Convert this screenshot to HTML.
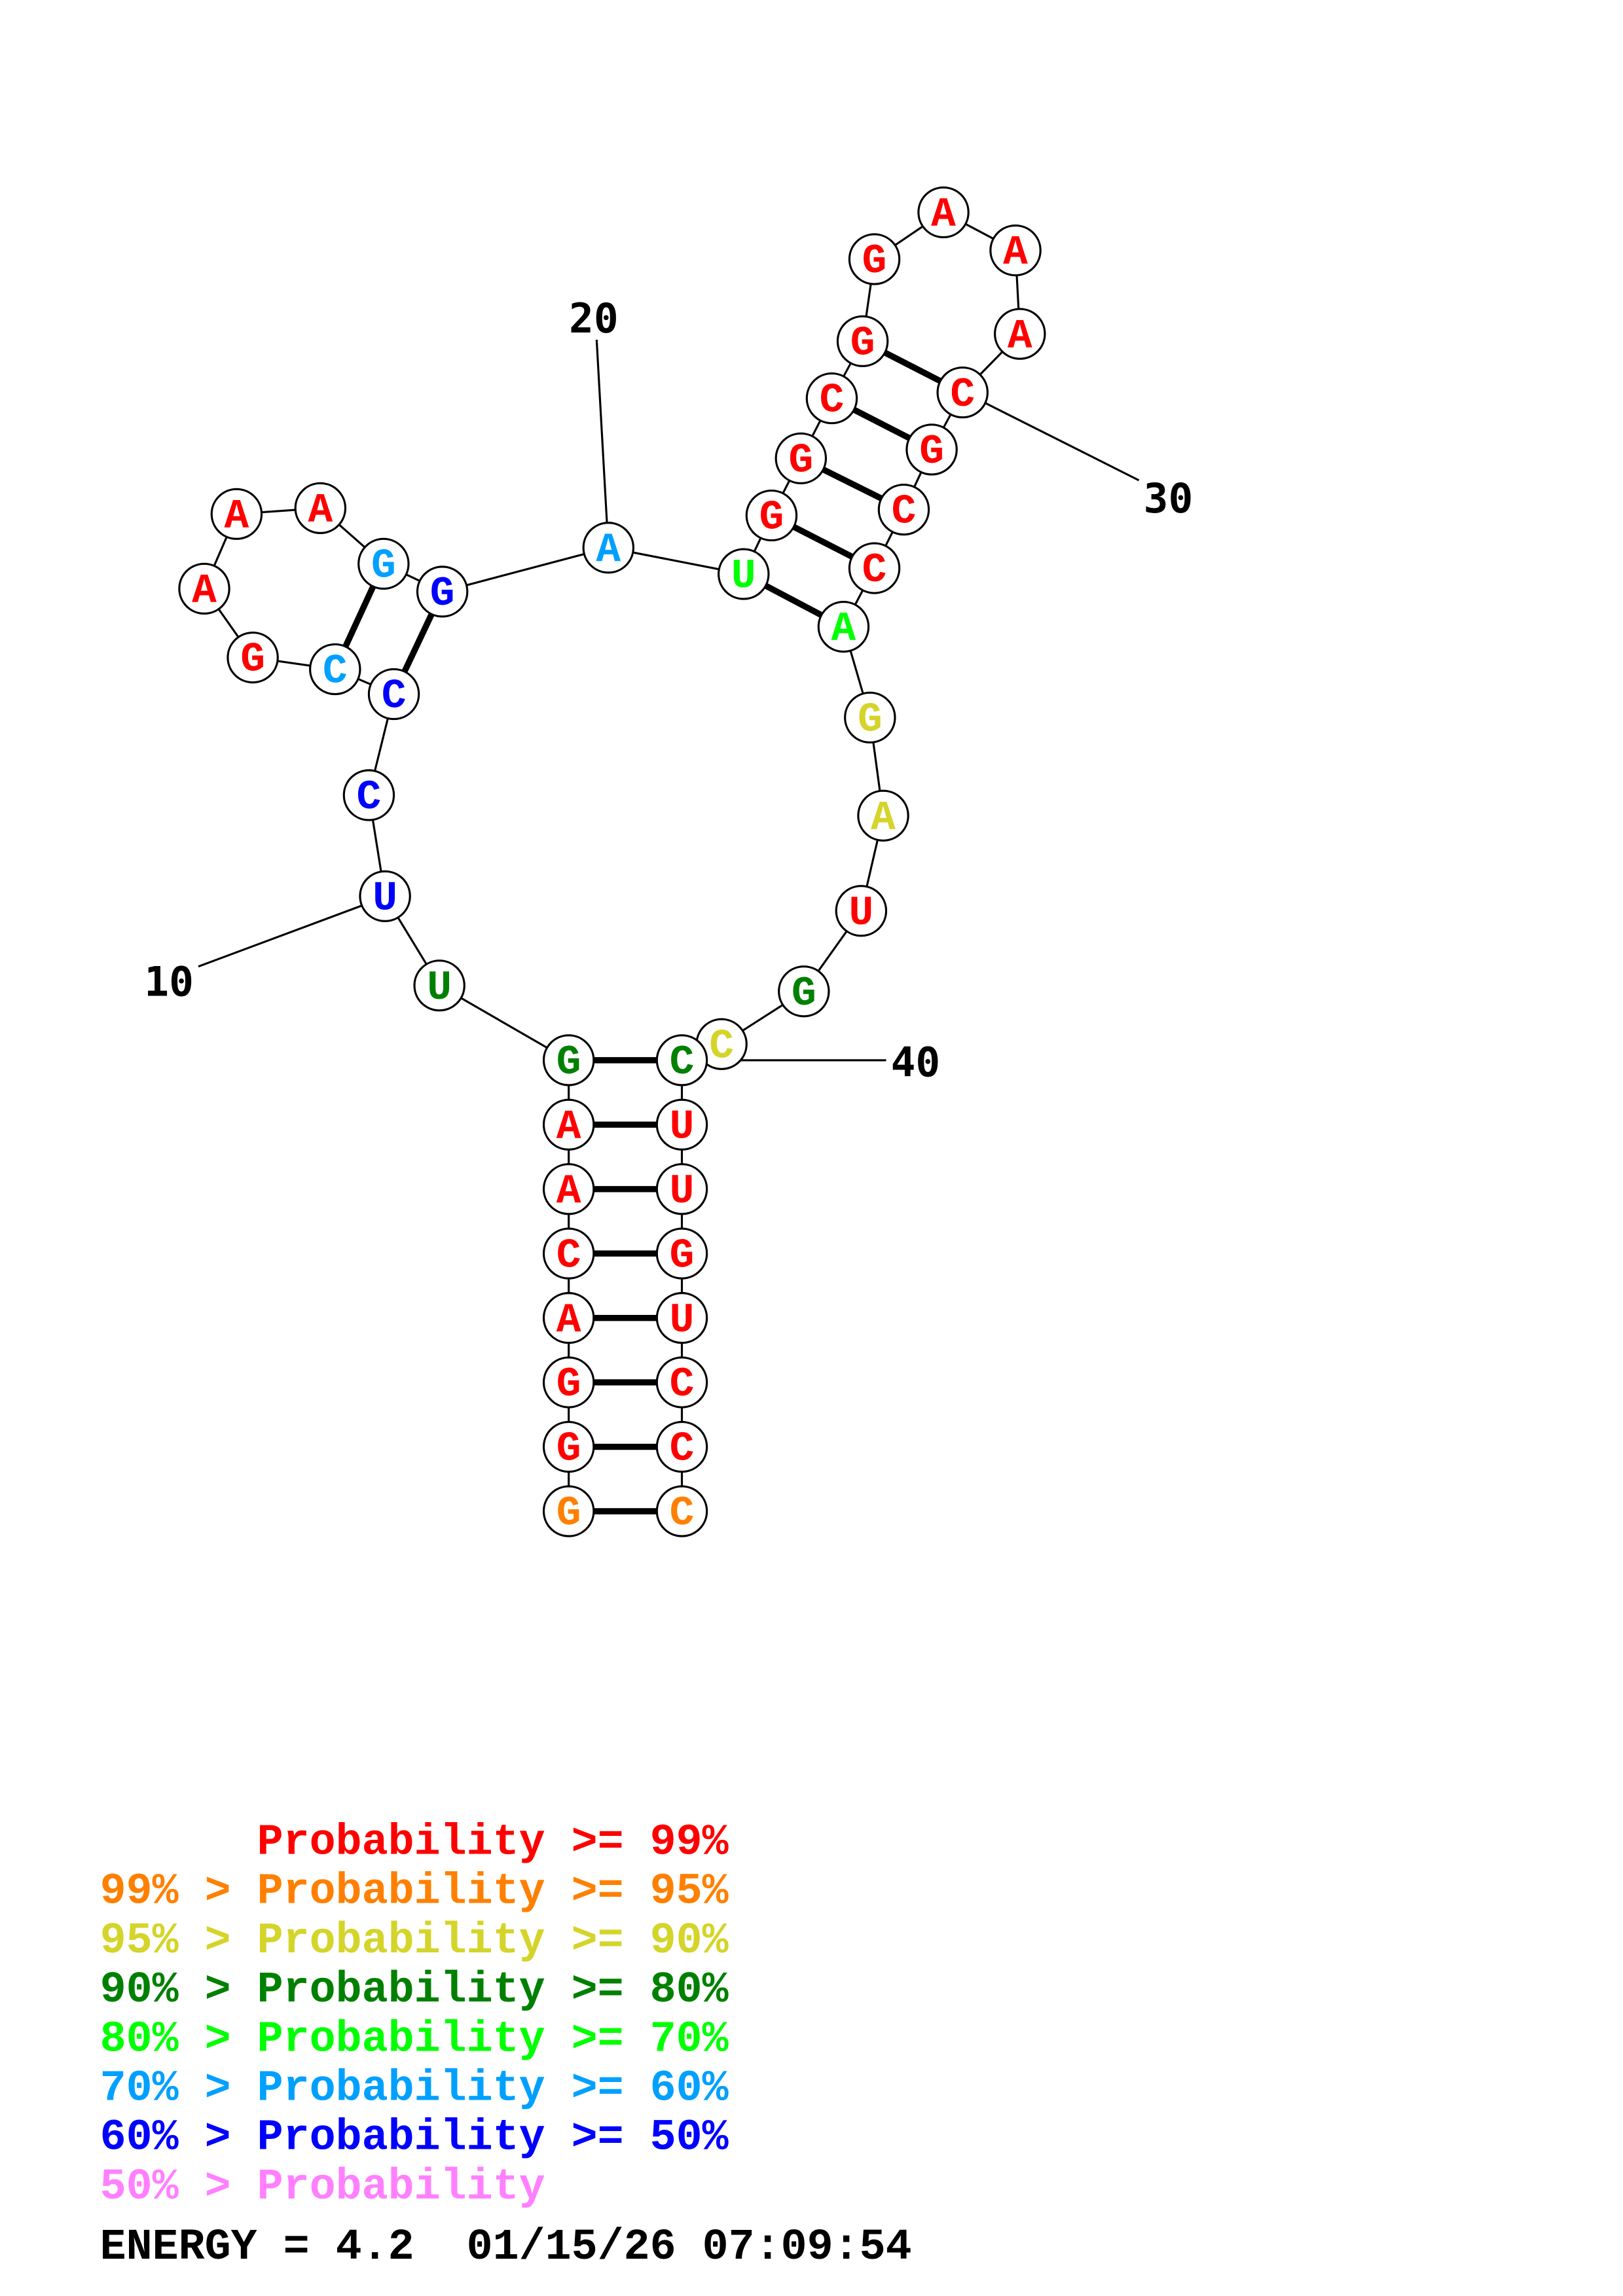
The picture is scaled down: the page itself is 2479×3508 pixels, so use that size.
<!DOCTYPE html>
<html><head><meta charset="utf-8"><style>html,body{margin:0;padding:0;background:#fff}svg{display:block}text{white-space:pre}</style></head>
<body>
<svg width="2479" height="3508" viewBox="0 0 1100 1556.6" xmlns="http://www.w3.org/2000/svg">
<rect width="1100" height="1556.6" fill="#fff"/>
<g transform="scale(0.996,0.9928)">
<g stroke="#000" stroke-width="1.4" fill="none">
<polyline points="387,1032 387,988 387,944 387,900 387,856 387,812 387,768 387,724 299,673 262,612 251,543 268,474 228,457 172,449 139,402 161,351 218,347 261,385 301,404 414,374 506,392 525,352 545,313 566,272 587,233 595,177 642,145 691,171 694,228 655,268 634,307 615,348 595,388 574,428 592,490 601,557 586,622 547,677 491,713 464,724 464,768 464,812 464,856 464,900 464,944 464,988 464,1032"/>
<line x1="135" y1="660" x2="250" y2="617"/>
<line x1="406" y1="232" x2="413" y2="357"/>
<line x1="670" y1="275" x2="775" y2="328"/>
<line x1="480" y1="724" x2="603" y2="724"/>
</g>
<g stroke="#000" stroke-width="4.2">
<line x1="387" y1="1032" x2="464" y2="1032"/><line x1="387" y1="988" x2="464" y2="988"/>
<line x1="387" y1="944" x2="464" y2="944"/><line x1="387" y1="900" x2="464" y2="900"/>
<line x1="387" y1="856" x2="464" y2="856"/><line x1="387" y1="812" x2="464" y2="812"/>
<line x1="387" y1="768" x2="464" y2="768"/><line x1="387" y1="724" x2="464" y2="724"/>
<line x1="268" y1="474" x2="301" y2="404"/><line x1="228" y1="457" x2="261" y2="385"/>
<line x1="506" y1="392" x2="574" y2="428"/><line x1="525" y1="352" x2="595" y2="388"/>
<line x1="545" y1="313" x2="615" y2="348"/><line x1="566" y1="272" x2="634" y2="307"/>
<line x1="587" y1="233" x2="655" y2="268"/>
</g>
<g stroke="#000" stroke-width="1.4" fill="#fff">
<circle cx="387" cy="1032" r="17"/><circle cx="387" cy="988" r="17"/><circle cx="387" cy="944" r="17"/><circle cx="387" cy="900" r="17"/><circle cx="387" cy="856" r="17"/><circle cx="387" cy="812" r="17"/><circle cx="387" cy="768" r="17"/><circle cx="387" cy="724" r="17"/>
<circle cx="299" cy="673" r="17"/><circle cx="262" cy="612" r="17"/><circle cx="251" cy="543" r="17"/><circle cx="268" cy="474" r="17"/><circle cx="228" cy="457" r="17"/><circle cx="172" cy="449" r="17"/><circle cx="139" cy="402" r="17"/><circle cx="161" cy="351" r="17"/><circle cx="218" cy="347" r="17"/><circle cx="261" cy="385" r="17"/><circle cx="301" cy="404" r="17"/><circle cx="414" cy="374" r="17"/><circle cx="506" cy="392" r="17"/><circle cx="525" cy="352" r="17"/><circle cx="545" cy="313" r="17"/><circle cx="566" cy="272" r="17"/><circle cx="587" cy="233" r="17"/><circle cx="595" cy="177" r="17"/><circle cx="642" cy="145" r="17"/><circle cx="691" cy="171" r="17"/><circle cx="694" cy="228" r="17"/><circle cx="655" cy="268" r="17"/><circle cx="634" cy="307" r="17"/><circle cx="615" cy="348" r="17"/><circle cx="595" cy="388" r="17"/><circle cx="574" cy="428" r="17"/><circle cx="592" cy="490" r="17"/><circle cx="601" cy="557" r="17"/><circle cx="586" cy="622" r="17"/><circle cx="547" cy="677" r="17"/><circle cx="491" cy="713" r="17"/>
<circle cx="464" cy="724" r="17"/><circle cx="464" cy="768" r="17"/><circle cx="464" cy="812" r="17"/><circle cx="464" cy="856" r="17"/><circle cx="464" cy="900" r="17"/><circle cx="464" cy="944" r="17"/><circle cx="464" cy="988" r="17"/><circle cx="464" cy="1032" r="17"/>
</g>
<g font-family="Liberation Mono, monospace" font-weight="bold" font-size="28" text-anchor="middle">
<text x="387" y="1041" fill="#ff8000">G</text><text x="387" y="997" fill="#f00">G</text><text x="387" y="953" fill="#f00">G</text><text x="387" y="909" fill="#f00">A</text><text x="387" y="865" fill="#f00">C</text><text x="387" y="821" fill="#f00">A</text><text x="387" y="777" fill="#f00">A</text><text x="387" y="733" fill="#008000">G</text>
<text x="299" y="682" fill="#008000">U</text><text x="262" y="621" fill="#00f">U</text><text x="251" y="552" fill="#00f">C</text><text x="268" y="483" fill="#00f">C</text><text x="228" y="466" fill="#00a0ff">C</text><text x="172" y="458" fill="#f00">G</text><text x="139" y="411" fill="#f00">A</text><text x="161" y="360" fill="#f00">A</text><text x="218" y="356" fill="#f00">A</text><text x="261" y="394" fill="#00a0ff">G</text><text x="301" y="413" fill="#00f">G</text><text x="414" y="383" fill="#00a0ff">A</text><text x="506" y="401" fill="#0f0">U</text><text x="525" y="361" fill="#f00">G</text><text x="545" y="322" fill="#f00">G</text><text x="566" y="281" fill="#f00">C</text><text x="587" y="242" fill="#f00">G</text><text x="595" y="186" fill="#f00">G</text><text x="642" y="154" fill="#f00">A</text><text x="691" y="180" fill="#f00">A</text><text x="694" y="237" fill="#f00">A</text><text x="655" y="277" fill="#f00">C</text><text x="634" y="316" fill="#f00">G</text><text x="615" y="357" fill="#f00">C</text><text x="595" y="397" fill="#f00">C</text><text x="574" y="437" fill="#0f0">A</text><text x="592" y="499" fill="#d4d42a">G</text><text x="601" y="566" fill="#d4d42a">A</text><text x="586" y="631" fill="#f00">U</text><text x="547" y="686" fill="#008000">G</text><text x="491" y="722" fill="#d4d42a">C</text>
<text x="464" y="733" fill="#008000">C</text><text x="464" y="777" fill="#f00">U</text><text x="464" y="821" fill="#f00">U</text><text x="464" y="865" fill="#f00">G</text><text x="464" y="909" fill="#f00">U</text><text x="464" y="953" fill="#f00">C</text><text x="464" y="997" fill="#f00">C</text><text x="464" y="1041" fill="#ff8000">C</text>
</g>
<g font-family="DejaVu Sans Mono, Liberation Mono, monospace" font-weight="bold" font-size="28" text-anchor="middle" fill="#000">
<text x="115" y="680">10</text><text x="404" y="227">20</text><text x="795" y="350">30</text><text x="623" y="735">40</text>
</g>
<g font-family="Liberation Mono, monospace" font-weight="bold" font-size="29.7">
<text x="68" y="1266" fill="#f00">      Probability &gt;= 99%</text>
<text x="68" y="1299.6" fill="#ff8000">99% &gt; Probability &gt;= 95%</text>
<text x="68" y="1333.2" fill="#d4d42a">95% &gt; Probability &gt;= 90%</text>
<text x="68" y="1366.8" fill="#008000">90% &gt; Probability &gt;= 80%</text>
<text x="68" y="1400.4" fill="#0f0">80% &gt; Probability &gt;= 70%</text>
<text x="68" y="1434" fill="#00a0ff">70% &gt; Probability &gt;= 60%</text>
<text x="68" y="1467.6" fill="#00f">60% &gt; Probability &gt;= 50%</text>
<text x="68" y="1501.2" fill="#ff80ff">50% &gt; Probability</text>
<text x="68" y="1542.5" fill="#000">ENERGY = 4.2  01/15/26 07:09:54</text>
</g>
</g>
</svg>
</body></html>
